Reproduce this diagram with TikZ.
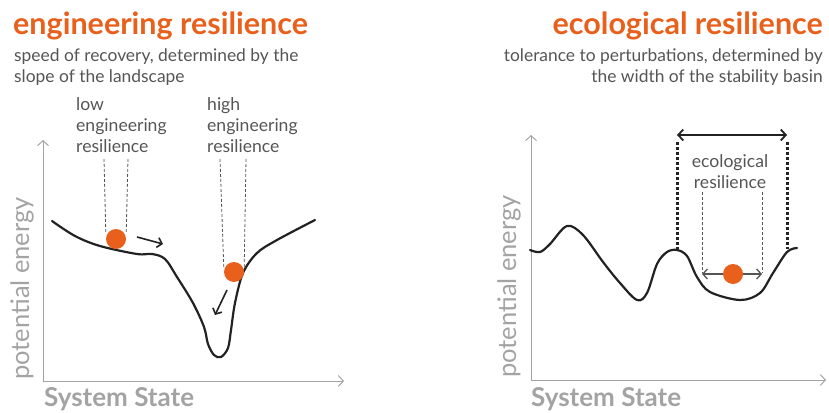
\documentclass[tikz,border=0pt]{standalone}
\usepackage{fontspec}
\setmainfont{Lato}
\usetikzlibrary{arrows.meta,positioning}
\definecolor{orng}{HTML}{E8601C}
\definecolor{axisg}{HTML}{A3A3A3}
\definecolor{txtg}{HTML}{555555}
\definecolor{ink}{HTML}{222222}

\begin{document}
\begin{tikzpicture}[x=1pt,y=-1pt,
  title/.style={font=\fontsize{30.5}{32}\selectfont\bfseries,text=orng,inner sep=0pt},
  sub/.style={font=\fontsize{17.4}{20}\selectfont,text=txtg,inner sep=0pt},
  lab/.style={font=\fontsize{17.6}{21}\selectfont,text=txtg,inner sep=0pt},
  axl/.style={font=\fontsize{25.5}{26}\selectfont,text=axisg,inner sep=0pt},
  axis/.style={draw=axisg,line width=1pt,-{Straight Barb[length=5pt,width=11pt]}},
  land/.style={draw=ink,line width=2.2pt,line cap=round},
  ball/.style={circle,fill=orng,minimum size=20pt,inner sep=0pt},
  guide/.style={draw=txtg,line width=0.8pt,dash pattern=on 3pt off 2pt},
  basin/.style={draw=ink,line width=3pt,dash pattern=on 2.5pt off 2.5pt},
  roll/.style={draw=ink,line width=1.6pt,-{Straight Barb[length=4.5pt,width=10pt]}}]
\useasboundingbox (0,0) rectangle (829,412);
% left panel: titles
\node[title,anchor=base west] (etitle) at (13,35) {engineering resilience};
\node[sub,anchor=base west] (esub1) at (14,62) {speed of recovery, determined by the};
\node[sub,anchor=base west] (esub2) at (14,82) {slope of the landscape};
% axes
\coordinate (eo) at (43,381);
\draw[axis] (eo) -- (43,140) coordinate (eytip);
\draw[axis] (eo) -- (344,381) coordinate (extip);
\node[axl,rotate=90,anchor=south west] (ey) at (34,380) {potential energy};
\node[axl,font=\fontsize{26}{26}\selectfont\bfseries,anchor=base west] (ex) at (44,406) {System State};
% landscape
\draw[land] plot[smooth,tension=0.55] coordinates {(52,221) (75,236) (100,246) (137,254) (152,254) (165,259) (177,277) (193,303) (204,327) (208,344) (214,355) (221,357) (228,348) (231,330) (235,303) (243,273) (257,253) (277,240) (315,220)};
% labels and guides
\node[lab,anchor=base west] (low1) at (76,110) {low};
\node[lab,anchor=base west] (low2) at (76,131) {engineering};
\node[lab,anchor=base west] (low3) at (76,152) {resilience};
\node[lab,anchor=base west] (high1) at (207,110) {high};
\node[lab,anchor=base west] (high2) at (207,131) {engineering};
\node[lab,anchor=base west] (high3) at (207,152) {resilience};
\node[ball] (b1) at (116,239) {};
\node[ball] (b2) at (234,272) {};
\draw[guide] (104,159) coordinate (g1a) -- (b1.west |- 0,233);
\draw[guide] (128,159) coordinate (g1b) -- (b1.east |- 0,233);
\draw[guide] (220,159) coordinate (g2a) -- (b2.west |- 0,268);
\draw[guide] (246,159) coordinate (g2b) -- (b2.east |- 0,268);
\coordinate (r1s) at (137,237);
\coordinate (r1e) at (163,244);
\coordinate (r2s) at (227,290);
\coordinate (r2e) at (215,315);
\draw[roll] (r1s) -- (r1e);
\draw[roll] (r2s) -- (r2e);
% right panel: titles
\node[title,anchor=base east] (ctitle) at (823,35) {ecological resilience};
\node[sub,anchor=base east] (csub1) at (823,62) {tolerance to perturbations, determined by};
\node[sub,anchor=base east] (csub2) at (823,82) {the width of the stability basin};
% axes
\coordinate (co) at (531,380);
\draw[axis] (co) -- (531,135) coordinate (cytip);
\draw[axis] (co) -- (826,380) coordinate (cxtip);
\node[axl,rotate=90,anchor=south west] (cy) at (521,378) {potential energy};
\node[axl,font=\fontsize{26}{26}\selectfont\bfseries,anchor=base west] (cx) at (531,406) {System State};
% landscape
\draw[land] plot[smooth,tension=0.55] coordinates {(530,250) (540,252) (550,244) (567,226) (583,235) (603,262) (620,283) (637,300) (647,293) (657,264) (667,252) (677,250) (687,256) (697,277) (710,292) (740,300) (760,293) (773,273) (787,252) (797,248)};
% basin width
\coordinate (wl) at (677,135);
\coordinate (wr) at (787,135);
\draw[draw=ink,line width=1.8pt,{Straight Barb[length=5pt,width=11pt]}-{Straight Barb[length=5pt,width=11pt]}] (wl) -- (wr);
\draw[basin] (677,142) -- (677,249);
\draw[basin] (787,142) -- (787,249);
\node[lab,anchor=base] (eco1) at (730,167) {ecological};
\node[lab,anchor=base] (eco2) at (730,188) {resilience};
\node[ball] (b3) at (733,274) {};
\draw[guide,line width=0.6pt] (702,192) -- (702,273);
\draw[guide,line width=0.6pt] (762,192) -- (762,273);
\draw[roll,draw=txtg,line width=1.3pt] (b3.west) -- (702,274);
\draw[roll,draw=txtg,line width=1.3pt] (b3.east) -- (762,274);
\end{tikzpicture}
\end{document}
